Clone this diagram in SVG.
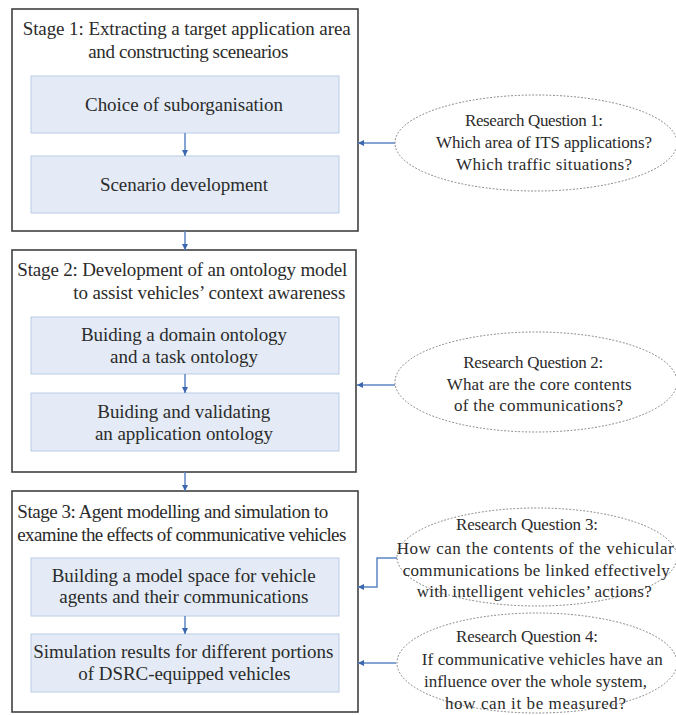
<svg xmlns="http://www.w3.org/2000/svg" width="676" height="715" viewBox="0 0 676 715">
  <style>
    text { font-family: "Liberation Serif", "Times New Roman", serif; fill: #2b2b2b; }
    .title { font-size: 19px; }
    .box { font-size: 19px; }
    .rq { font-size: 17px; }
    .stage { fill: #ffffff; stroke: #404040; stroke-width: 1.6; }
    .step { fill: #e4ebf6; stroke: #b9cde5; stroke-width: 1; }
    .question { fill: none; stroke: #7f7f7f; stroke-width: 1; stroke-dasharray: 1 2.5; stroke-linecap: round; }
    .link { fill: none; stroke: #5b87c5; stroke-width: 1.5; marker-end: url(#head); }
  </style>
  <defs>
    <marker id="head" viewBox="0 0 10 10" refX="10" refY="5" markerWidth="7" markerHeight="6" markerUnits="userSpaceOnUse" orient="auto">
      <path d="M0,0 L10,5 L0,10 z" fill="#3a67ad"/>
    </marker>
  </defs>
  <rect width="676" height="715" fill="#ffffff"/>

  <!-- Stage 1 -->
  <g id="stage1">
    <rect class="stage" x="12" y="9" width="346" height="222"/>
    <text class="title" x="22.7" y="35" textLength="328">Stage 1: Extracting a target application area</text>
    <text class="title" x="88.3" y="57.5" textLength="200">and constructing scenearios</text>
  </g>
  <g id="step-suborganisation">
    <rect class="step" x="31" y="76" width="308" height="57"/>
    <text class="box" x="85" y="111" textLength="198">Choice of suborganisation</text>
  </g>
  <g id="step-scenario">
    <rect class="step" x="31" y="156" width="308" height="57"/>
    <text class="box" x="100" y="191" textLength="168">Scenario development</text>
  </g>

  <!-- Stage 2 -->
  <g id="stage2">
    <rect class="stage" x="12" y="250" width="344" height="222"/>
    <text class="title" x="17.3" y="276" textLength="330">Stage 2: Development of an ontology model</text>
    <text class="title" x="73.3" y="298.5" textLength="272">to assist vehicles’ context awareness</text>
  </g>
  <g id="step-domain">
    <rect class="step" x="31" y="317" width="308" height="57"/>
    <text class="box" x="81" y="341" textLength="206">Buiding a domain ontology</text>
    <text class="box" x="110" y="363" textLength="148">and a task ontology</text>
  </g>
  <g id="step-application">
    <rect class="step" x="31" y="393" width="308" height="58"/>
    <text class="box" x="97.3" y="417.5" textLength="173">Buiding and validating</text>
    <text class="box" x="95" y="439.5" textLength="178">an application ontology</text>
  </g>

  <!-- Stage 3 -->
  <g id="stage3">
    <rect class="stage" x="12" y="491" width="346" height="221"/>
    <text class="title" x="17.3" y="518" textLength="311">Stage 3: Agent modelling and simulation to</text>
    <text class="title" x="17.3" y="540.5" textLength="329">examine the effects of communicative vehicles</text>
  </g>
  <g id="step-model">
    <rect class="step" x="31" y="558" width="308" height="58"/>
    <text class="box" x="51.7" y="581.5" textLength="264">Building a model space for vehicle</text>
    <text class="box" x="59.3" y="603" textLength="249">agents and their communications</text>
  </g>
  <g id="step-simulation">
    <rect class="step" x="31" y="634" width="308" height="58"/>
    <text class="box" x="33.3" y="657.5" textLength="300">Simulation results for different portions</text>
    <text class="box" x="78.3" y="679.5" textLength="212">of DSRC-equipped vehicles</text>
  </g>

  <!-- Research questions -->
  <g id="rq1">
    <ellipse class="question" cx="536" cy="143" rx="141" ry="48"/>
    <text class="rq" x="465" y="126" textLength="138">Research Question 1:</text>
    <text class="rq" x="436" y="148" textLength="216">Which area of ITS applications?</text>
    <text class="rq" x="456" y="170" textLength="176">Which traffic situations?</text>
  </g>
  <g id="rq2">
    <ellipse class="question" cx="536" cy="382" rx="141" ry="50"/>
    <text class="rq" x="463.3" y="368" textLength="140">Research Question 2:</text>
    <text class="rq" x="446.7" y="390" textLength="185">What are the core contents</text>
    <text class="rq" x="454" y="411" textLength="169">of the communications?</text>
  </g>
  <g id="rq3">
    <ellipse class="question" cx="537" cy="557" rx="140" ry="49"/>
    <text class="rq" x="456" y="530" textLength="142">Research Question 3:</text>
    <text class="rq" x="396.7" y="553.5" textLength="277">How can the contents of the vehicular</text>
    <text class="rq" x="402.7" y="575.5" textLength="267">communications be linked effectively</text>
    <text class="rq" x="416.7" y="597" textLength="235">with intelligent vehicles’ actions?</text>
  </g>
  <g id="rq4">
    <ellipse class="question" cx="537" cy="663" rx="140" ry="50"/>
    <text class="rq" x="456" y="642" textLength="142">Research Question 4:</text>
    <text class="rq" x="421.7" y="665" textLength="241">If communicative vehicles have an</text>
    <text class="rq" x="424" y="687" textLength="223">influence over the whole system,</text>
    <text class="rq" x="445" y="709" textLength="181">how can it be measured?</text>
  </g>

  <!-- Connectors -->
  <g id="connectors">
    <path class="link" d="M185,133 V156"/>
    <path class="link" d="M185,231 V250"/>
    <path class="link" d="M185,374 V393"/>
    <path class="link" d="M185,472 V491"/>
    <path class="link" d="M185,616 V634"/>
    <path class="link" d="M395,143 H358"/>
    <path class="link" d="M395,385 H357"/>
    <path class="link" d="M397,558 H377 V587 H358"/>
    <path class="link" d="M396,663 H358"/>
  </g>
</svg>
